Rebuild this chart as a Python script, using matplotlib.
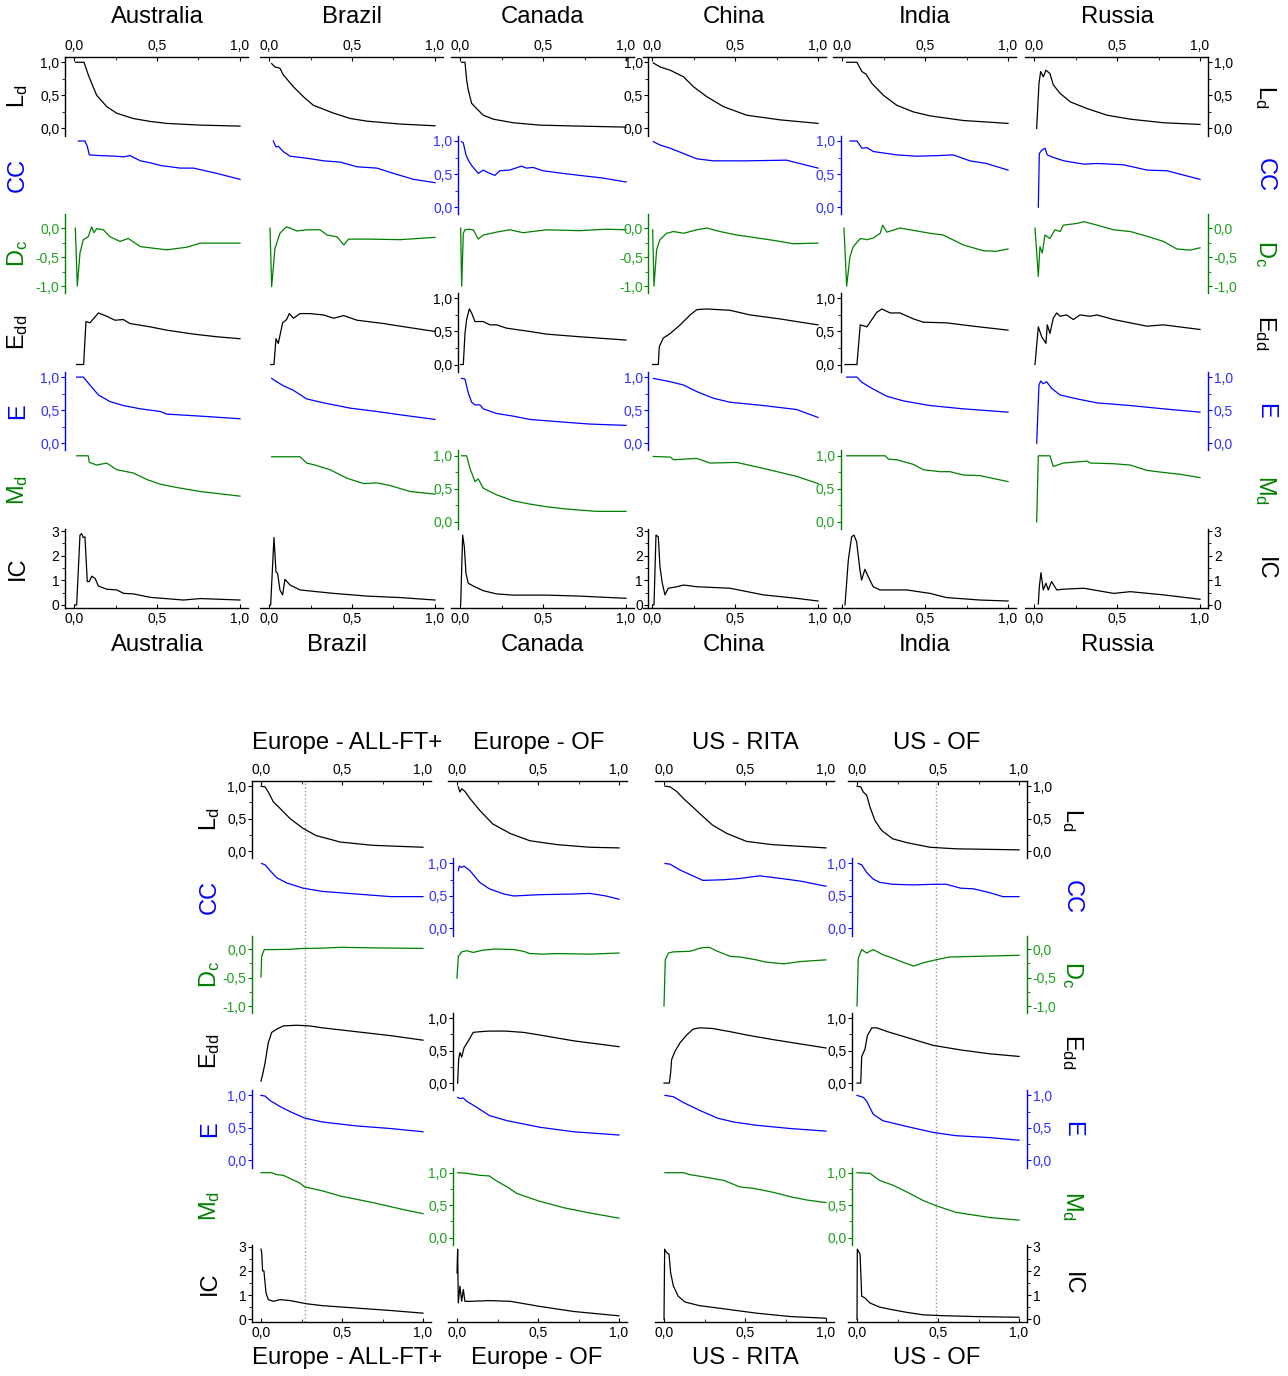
import matplotlib
matplotlib.use("Agg")
import matplotlib.pyplot as plt

plt.rcParams['font.family'] = ['Liberation Sans', 'DejaVu Sans']
plt.rcParams['mathtext.fontset'] = 'custom'
plt.rcParams['mathtext.rm'] = 'Liberation Sans'
plt.rcParams['mathtext.it'] = 'Liberation Sans'

# ---------------- data ----------------
METRICS = ["Ld", "CC", "Dc", "Edd", "E", "Md", "IC"]
METRIC_LABELS = ["L$_{\\rm d}$", "CC", "D$_{\\rm c}$", "E$_{\\rm dd}$", "E", "M$_{\\rm d}$", "IC"]
TOP_NAMES = ["Australia", "Brazil", "Canada", "China", "India", "Russia"]
BOTTOM_NAMES = ["Europe - ALL-FT+", "Europe - OF", "US - RITA", "US - OF"]
XTICKS = [0.0, 0.5, 1.0]
XMINOR = [0.25, 0.75]
UNIT_TICKS = [0.0, 0.5, 1.0]
DC_TICKS = [-1.0, -0.5, 0.0]
IC_TICKS = [0, 1, 2, 3]
MARKER_LINES = {0: 0.27, 3: 0.49}   # dotted reference lines in lower block

australia = {
    "Ld": ([0.01, 0.06, 0.086, 0.11, 0.137, 0.197, 0.257, 0.357, 0.458, 0.558, 0.76, 1.0],
           [1.0, 1.0, 0.81, 0.66, 0.5, 0.33, 0.23, 0.15, 0.106, 0.076, 0.05, 0.035]),
    "CC": ([0.026, 0.066, 0.08, 0.092, 0.15, 0.25, 0.3, 0.337, 0.36, 0.4, 0.46, 0.52, 0.58, 0.64, 0.72, 0.86, 1.0],
           [1.0, 1.0, 0.92, 0.79, 0.78, 0.77, 0.76, 0.78, 0.75, 0.70, 0.67, 0.63, 0.61, 0.59, 0.59, 0.51, 0.42]),
    "Dc": ([0.008, 0.02, 0.036, 0.056, 0.086, 0.106, 0.12, 0.137, 0.177, 0.217, 0.277, 0.327, 0.4, 0.558, 0.68, 0.76, 1.0],
           [0.0, -1.0, -0.43, -0.2, -0.15, 0.02, -0.08, -0.01, -0.03, -0.15, -0.23, -0.18, -0.32, -0.375, -0.33, -0.26, -0.26]),
    "Edd": ([0.016, 0.058, 0.072, 0.096, 0.147, 0.197, 0.247, 0.297, 0.337, 0.458, 0.558, 0.72, 0.86, 1.0],
            [0.0, 0.0, 0.65, 0.63, 0.78, 0.73, 0.67, 0.68, 0.62, 0.57, 0.52, 0.46, 0.42, 0.39]),
    "E": ([0.016, 0.056, 0.096, 0.147, 0.217, 0.297, 0.4, 0.52, 0.56, 0.76, 1.0],
          [1.0, 1.0, 0.88, 0.73, 0.63, 0.57, 0.52, 0.48, 0.44, 0.41, 0.37]),
    "Md": ([0.016, 0.086, 0.092, 0.137, 0.197, 0.257, 0.357, 0.44, 0.52, 0.62, 0.76, 1.0],
           [1.0, 1.0, 0.9, 0.86, 0.89, 0.79, 0.74, 0.64, 0.57, 0.52, 0.46, 0.39]),
    "IC": ([0.006, 0.016, 0.036, 0.046, 0.056, 0.066, 0.08, 0.092, 0.107, 0.127, 0.147, 0.197, 0.257, 0.3, 0.357, 0.458, 0.66, 0.76, 1.0],
           [0, 0, 2.84, 2.9, 2.74, 2.77, 0.95, 0.95, 1.17, 1.08, 0.77, 0.64, 0.61, 0.47, 0.45, 0.31, 0.2, 0.26, 0.2]),
}

brazil = {
    "Ld": ([0.016, 0.036, 0.066, 0.086, 0.147, 0.207, 0.267, 0.39, 0.49, 0.59, 0.79, 1.0],
           [0.98, 0.93, 0.91, 0.81, 0.63, 0.48, 0.35, 0.23, 0.15, 0.11, 0.066, 0.04]),
    "CC": ([0.026, 0.042, 0.056, 0.086, 0.127, 0.227, 0.33, 0.43, 0.53, 0.65, 0.75, 0.87, 1.0],
           [1.0, 0.91, 0.92, 0.84, 0.77, 0.74, 0.70, 0.68, 0.61, 0.59, 0.51, 0.42, 0.37]),
    "Dc": ([0.006, 0.016, 0.036, 0.05, 0.066, 0.086, 0.106, 0.127, 0.167, 0.227, 0.307, 0.35, 0.41, 0.45, 0.48, 0.59, 0.79, 1.0],
           [0.0, -1.01, -0.35, -0.23, -0.09, -0.03, 0.02, 0.0, -0.05, -0.03, -0.03, -0.12, -0.15, -0.29, -0.19, -0.19, -0.2, -0.16]),
    "Edd": ([0.01, 0.03, 0.042, 0.056, 0.082, 0.106, 0.122, 0.147, 0.187, 0.247, 0.327, 0.39, 0.45, 0.53, 0.69, 0.79, 1.0],
            [0.0, 0.0, 0.39, 0.32, 0.63, 0.68, 0.77, 0.70, 0.77, 0.77, 0.75, 0.70, 0.74, 0.67, 0.62, 0.58, 0.5]),
    "E": ([0.016, 0.046, 0.086, 0.147, 0.227, 0.33, 0.49, 0.65, 0.79, 1.0],
          [0.98, 0.93, 0.87, 0.80, 0.67, 0.61, 0.53, 0.48, 0.43, 0.36]),
    "Md": ([0.016, 0.187, 0.227, 0.277, 0.367, 0.47, 0.57, 0.65, 0.73, 0.85, 1.0],
           [0.985, 0.985, 0.89, 0.86, 0.79, 0.66, 0.58, 0.59, 0.55, 0.46, 0.42]),
    "IC": ([0.01, 0.03, 0.042, 0.052, 0.066, 0.082, 0.096, 0.127, 0.187, 0.287, 0.39, 0.59, 0.79, 1.0],
           [0, 2.74, 1.35, 1.28, 0.61, 0.41, 1.04, 0.81, 0.61, 0.54, 0.47, 0.36, 0.3, 0.2]),
}

canada = {
    "Ld": ([0.01, 0.03, 0.04, 0.05, 0.07, 0.1, 0.14, 0.2, 0.32, 0.48, 0.72, 1.0],
           [1.0, 1.0, 0.73, 0.58, 0.38, 0.3, 0.2, 0.14, 0.086, 0.05, 0.035, 0.02]),
    "CC": ([0.01, 0.02, 0.036, 0.05, 0.07, 0.09, 0.11, 0.14, 0.17, 0.21, 0.24, 0.3, 0.37, 0.4, 0.44, 0.5, 0.62, 0.72, 0.86, 1.0],
           [0.99, 0.97, 0.79, 0.71, 0.63, 0.57, 0.51, 0.56, 0.52, 0.48, 0.55, 0.56, 0.62, 0.59, 0.6, 0.55, 0.51, 0.48, 0.44, 0.38]),
    "Dc": ([0.004, 0.01, 0.02, 0.03, 0.05, 0.08, 0.11, 0.14, 0.22, 0.3, 0.38, 0.52, 0.72, 0.88, 1.0],
           [0.0, -1.0, -0.09, -0.03, -0.02, -0.03, -0.19, -0.12, -0.07, -0.03, -0.08, -0.03, -0.045, -0.02, -0.03]),
    "Edd": ([0.004, 0.02, 0.03, 0.04, 0.056, 0.07, 0.09, 0.14, 0.18, 0.22, 0.28, 0.42, 0.52, 0.72, 1.0],
            [0.0, 0.0, 0.47, 0.68, 0.84, 0.78, 0.65, 0.65, 0.6, 0.6, 0.55, 0.5, 0.46, 0.42, 0.37]),
    "E": ([0.01, 0.03, 0.05, 0.07, 0.09, 0.12, 0.14, 0.22, 0.32, 0.42, 0.62, 0.78, 1.0],
          [0.98, 0.97, 0.76, 0.62, 0.58, 0.58, 0.52, 0.45, 0.41, 0.36, 0.32, 0.29, 0.27]),
    "Md": ([0.01, 0.04, 0.06, 0.09, 0.11, 0.14, 0.18, 0.22, 0.32, 0.42, 0.52, 0.62, 0.82, 1.0],
           [1.0, 1.0, 0.81, 0.61, 0.65, 0.51, 0.46, 0.41, 0.32, 0.27, 0.23, 0.2, 0.16, 0.16]),
    "IC": ([0.004, 0.016, 0.026, 0.036, 0.05, 0.08, 0.14, 0.22, 0.32, 0.52, 0.72, 1.0],
           [0, 2.84, 2.36, 1.28, 0.88, 0.77, 0.58, 0.45, 0.4, 0.4, 0.36, 0.27]),
}

china = {
    "Ld": ([0.008, 0.048, 0.11, 0.19, 0.25, 0.33, 0.43, 0.57, 0.77, 1.0],
           [0.99, 0.93, 0.88, 0.78, 0.63, 0.48, 0.33, 0.2, 0.13, 0.076]),
    "CC": ([0.008, 0.048, 0.11, 0.21, 0.27, 0.37, 0.57, 0.81, 1.0],
           [0.99, 0.94, 0.89, 0.79, 0.73, 0.7, 0.7, 0.71, 0.59]),
    "Dc": ([0.004, 0.012, 0.028, 0.048, 0.088, 0.13, 0.19, 0.27, 0.33, 0.41, 0.51, 0.61, 0.75, 0.85, 1.0],
           [-0.03, -1.0, -0.37, -0.2, -0.09, -0.06, -0.09, -0.03, 0.0, -0.06, -0.12, -0.16, -0.22, -0.27, -0.26]),
    "Edd": ([0.004, 0.038, 0.044, 0.068, 0.11, 0.17, 0.23, 0.27, 0.33, 0.47, 0.59, 0.77, 0.87, 1.0],
            [0.0, 0.0, 0.27, 0.4, 0.47, 0.6, 0.75, 0.83, 0.84, 0.82, 0.75, 0.69, 0.65, 0.6]),
    "E": ([0.008, 0.11, 0.19, 0.27, 0.37, 0.47, 0.67, 0.87, 1.0],
          [0.98, 0.93, 0.88, 0.78, 0.68, 0.62, 0.57, 0.51, 0.39]),
    "Md": ([0.008, 0.11, 0.13, 0.27, 0.35, 0.51, 0.67, 0.87, 1.0],
           [0.99, 0.98, 0.94, 0.96, 0.89, 0.9, 0.81, 0.69, 0.58]),
    "IC": ([0.004, 0.012, 0.024, 0.038, 0.048, 0.062, 0.078, 0.098, 0.15, 0.19, 0.27, 0.47, 0.67, 0.87, 1.0],
           [0, 0, 2.84, 2.77, 1.55, 0.88, 0.41, 0.68, 0.74, 0.81, 0.74, 0.68, 0.41, 0.27, 0.16]),
}

india = {
    "Ld": ([0.028, 0.09, 0.12, 0.145, 0.18, 0.25, 0.33, 0.43, 0.53, 0.73, 1.0],
           [1.0, 1.0, 0.86, 0.82, 0.68, 0.5, 0.35, 0.25, 0.19, 0.12, 0.076]),
    "CC": ([0.048, 0.09, 0.12, 0.15, 0.19, 0.33, 0.45, 0.59, 0.67, 0.77, 0.87, 1.0],
           [1.0, 1.0, 0.89, 0.9, 0.84, 0.79, 0.77, 0.78, 0.79, 0.7, 0.66, 0.56]),
    "Dc": ([0.012, 0.028, 0.048, 0.068, 0.11, 0.15, 0.19, 0.23, 0.245, 0.27, 0.35, 0.45, 0.53, 0.61, 0.73, 0.85, 0.93, 1.0],
           [0.0, -1.0, -0.49, -0.32, -0.18, -0.2, -0.17, -0.09, 0.05, -0.07, 0.0, -0.05, -0.09, -0.12, -0.29, -0.39, -0.4, -0.36]),
    "Edd": ([0.018, 0.09, 0.11, 0.15, 0.18, 0.21, 0.24, 0.29, 0.35, 0.43, 0.49, 0.63, 0.79, 1.0],
            [0.0, 0.0, 0.6, 0.57, 0.68, 0.79, 0.84, 0.78, 0.78, 0.69, 0.64, 0.63, 0.58, 0.52]),
    "E": ([0.028, 0.09, 0.12, 0.18, 0.27, 0.37, 0.53, 0.73, 1.0],
          [1.0, 1.0, 0.92, 0.83, 0.71, 0.64, 0.57, 0.52, 0.47]),
    "Md": ([0.028, 0.26, 0.28, 0.33, 0.43, 0.49, 0.59, 0.65, 0.73, 0.83, 1.0],
           [1.0, 1.0, 0.95, 0.94, 0.87, 0.79, 0.76, 0.76, 0.71, 0.70, 0.61]),
    "IC": ([0.018, 0.038, 0.058, 0.072, 0.088, 0.108, 0.118, 0.138, 0.158, 0.188, 0.23, 0.33, 0.39, 0.53, 0.63, 0.83, 1.0],
           [0, 1.82, 2.77, 2.84, 2.57, 1.42, 1.01, 1.45, 1.15, 0.74, 0.61, 0.61, 0.61, 0.47, 0.3, 0.2, 0.16]),
}

russia = {
    "Ld": ([0.016, 0.03, 0.04, 0.056, 0.072, 0.096, 0.116, 0.157, 0.22, 0.32, 0.44, 0.58, 0.78, 1.0],
           [0.0, 0.68, 0.86, 0.78, 0.88, 0.83, 0.66, 0.53, 0.4, 0.3, 0.2, 0.14, 0.086, 0.06]),
    "CC": ([0.026, 0.032, 0.046, 0.066, 0.08, 0.106, 0.18, 0.3, 0.38, 0.54, 0.68, 0.8, 1.0],
           [0.0, 0.81, 0.86, 0.89, 0.79, 0.76, 0.7, 0.65, 0.66, 0.64, 0.56, 0.55, 0.42]),
    "Dc": ([0.006, 0.026, 0.036, 0.05, 0.066, 0.096, 0.126, 0.157, 0.177, 0.26, 0.3, 0.38, 0.48, 0.58, 0.68, 0.78, 0.86, 0.94, 1.0],
           [0.0, -0.83, -0.32, -0.43, -0.12, -0.18, -0.03, -0.06, 0.05, 0.08, 0.11, 0.05, -0.03, -0.06, -0.14, -0.23, -0.36, -0.38, -0.34]),
    "Edd": ([0.006, 0.026, 0.046, 0.072, 0.08, 0.096, 0.116, 0.137, 0.157, 0.197, 0.237, 0.277, 0.337, 0.38, 0.48, 0.58, 0.68, 0.78, 1.0],
            [0.0, 0.57, 0.42, 0.32, 0.6, 0.47, 0.7, 0.78, 0.73, 0.75, 0.68, 0.75, 0.73, 0.75, 0.68, 0.63, 0.58, 0.6, 0.53]),
    "E": ([0.016, 0.03, 0.04, 0.056, 0.076, 0.106, 0.157, 0.26, 0.38, 0.58, 0.78, 1.0],
          [0.0, 0.88, 0.94, 0.9, 0.93, 0.83, 0.73, 0.67, 0.61, 0.57, 0.52, 0.47]),
    "Md": ([0.016, 0.026, 0.096, 0.116, 0.177, 0.32, 0.34, 0.48, 0.58, 0.68, 0.74, 0.88, 1.0],
           [0.0, 1.0, 1.0, 0.84, 0.89, 0.92, 0.89, 0.88, 0.86, 0.78, 0.76, 0.72, 0.67]),
    "IC": ([0.026, 0.032, 0.042, 0.056, 0.072, 0.086, 0.106, 0.137, 0.177, 0.3, 0.48, 0.58, 0.78, 1.0],
           [0.04, 0.74, 1.31, 0.61, 0.88, 0.61, 0.95, 0.61, 0.64, 0.68, 0.47, 0.54, 0.41, 0.23]),
}

europe_all = {
    "Ld": ([0.0, 0.025, 0.045, 0.076, 0.117, 0.18, 0.26, 0.34, 0.49, 0.69, 1.0],
           [1.0, 0.99, 0.91, 0.76, 0.66, 0.5, 0.35, 0.24, 0.14, 0.09, 0.06]),
    "CC": ([0.004, 0.025, 0.056, 0.097, 0.16, 0.26, 0.38, 0.59, 0.8, 1.0],
           [1.0, 0.98, 0.89, 0.78, 0.7, 0.62, 0.57, 0.53, 0.49, 0.49]),
    "Dc": ([0.0, 0.004, 0.02, 0.08, 0.18, 0.26, 0.38, 0.49, 0.69, 1.0],
           [-0.49, -0.13, -0.01, -0.01, -0.005, 0.01, 0.015, 0.03, 0.02, 0.01]),
    "Edd": ([0.0, 0.01, 0.025, 0.045, 0.066, 0.097, 0.138, 0.22, 0.3, 0.38, 0.59, 0.8, 1.0],
            [0.03, 0.13, 0.31, 0.62, 0.78, 0.83, 0.88, 0.89, 0.88, 0.85, 0.79, 0.73, 0.66]),
    "E": ([0.0, 0.025, 0.056, 0.117, 0.18, 0.27, 0.38, 0.59, 0.8, 1.0],
          [1.0, 0.99, 0.92, 0.83, 0.75, 0.65, 0.59, 0.53, 0.49, 0.44]),
    "Md": ([0.0, 0.066, 0.097, 0.138, 0.18, 0.24, 0.27, 0.38, 0.49, 0.69, 0.9, 1.0],
           [1.0, 1.0, 0.97, 0.96, 0.91, 0.84, 0.78, 0.72, 0.64, 0.54, 0.42, 0.37]),
    "IC": ([0.0, 0.004, 0.01, 0.018, 0.031, 0.045, 0.076, 0.117, 0.18, 0.28, 0.38, 0.59, 0.8, 1.0],
           [2.9, 2.76, 2.0, 2.0, 1.09, 0.81, 0.74, 0.81, 0.77, 0.64, 0.56, 0.46, 0.36, 0.25]),
}

europe_of = {
    "Ld": ([0.008, 0.018, 0.029, 0.049, 0.08, 0.14, 0.22, 0.33, 0.45, 0.62, 0.82, 1.0],
           [0.99, 0.91, 0.96, 0.92, 0.81, 0.63, 0.42, 0.27, 0.16, 0.1, 0.06, 0.05]),
    "CC": ([0.008, 0.014, 0.029, 0.043, 0.08, 0.14, 0.2, 0.29, 0.35, 0.51, 0.72, 0.82, 0.92, 1.0],
           [0.89, 0.96, 0.94, 0.96, 0.89, 0.71, 0.61, 0.53, 0.5, 0.52, 0.53, 0.54, 0.5, 0.45]),
    "Dc": ([0.0, 0.008, 0.029, 0.06, 0.1, 0.16, 0.24, 0.35, 0.41, 0.45, 0.53, 0.62, 0.82, 1.0],
           [-0.51, -0.13, -0.05, -0.03, -0.06, -0.02, 0.0, -0.01, -0.04, -0.08, -0.09, -0.08, -0.09, -0.07]),
    "Edd": ([0.004, 0.01, 0.018, 0.029, 0.043, 0.07, 0.1, 0.14, 0.2, 0.3, 0.41, 0.51, 0.72, 1.0],
            [0.0, 0.36, 0.47, 0.4, 0.54, 0.65, 0.78, 0.79, 0.8, 0.8, 0.78, 0.74, 0.65, 0.56]),
    "E": ([0.004, 0.018, 0.039, 0.06, 0.12, 0.2, 0.31, 0.51, 0.72, 1.0],
          [0.97, 0.95, 0.96, 0.91, 0.82, 0.69, 0.61, 0.51, 0.44, 0.39]),
    "Md": ([0.004, 0.06, 0.14, 0.2, 0.24, 0.31, 0.37, 0.51, 0.66, 0.82, 1.0],
           [1.0, 0.99, 0.96, 0.95, 0.88, 0.78, 0.68, 0.56, 0.46, 0.38, 0.3]),
    "IC": ([0.0, 0.004, 0.008, 0.018, 0.029, 0.039, 0.049, 0.08, 0.2, 0.33, 0.51, 0.72, 1.0],
           [1.92, 2.9, 0.67, 1.37, 0.74, 1.23, 0.74, 0.74, 0.77, 0.74, 0.53, 0.32, 0.14]),
}

us_rita = {
    "Ld": ([0.006, 0.037, 0.078, 0.12, 0.16, 0.22, 0.3, 0.39, 0.51, 0.67, 1.0],
           [1.0, 0.99, 0.92, 0.81, 0.72, 0.58, 0.4, 0.27, 0.15, 0.1, 0.05]),
    "CC": ([0.006, 0.037, 0.099, 0.16, 0.24, 0.37, 0.47, 0.59, 0.72, 0.84, 1.0],
           [1.0, 0.99, 0.9, 0.83, 0.74, 0.75, 0.77, 0.81, 0.77, 0.73, 0.65]),
    "Dc": ([0.0, 0.008, 0.027, 0.058, 0.16, 0.23, 0.28, 0.33, 0.41, 0.47, 0.57, 0.63, 0.74, 0.84, 1.0],
           [-1.0, -0.19, -0.07, -0.05, -0.04, 0.02, 0.03, -0.04, -0.13, -0.14, -0.19, -0.23, -0.26, -0.22, -0.19]),
    "Edd": ([0.0, 0.033, 0.041, 0.047, 0.068, 0.099, 0.14, 0.18, 0.22, 0.3, 0.41, 0.51, 0.67, 1.0],
            [0.0, 0.0, 0.16, 0.36, 0.49, 0.62, 0.74, 0.83, 0.85, 0.84, 0.79, 0.74, 0.67, 0.54]),
    "E": ([0.006, 0.058, 0.12, 0.22, 0.33, 0.43, 0.57, 0.78, 1.0],
          [1.0, 0.98, 0.89, 0.77, 0.65, 0.59, 0.54, 0.49, 0.45]),
    "Md": ([0.006, 0.12, 0.16, 0.26, 0.37, 0.47, 0.55, 0.67, 0.78, 0.88, 1.0],
           [1.0, 1.0, 0.97, 0.93, 0.88, 0.78, 0.76, 0.7, 0.63, 0.58, 0.54]),
    "IC": ([0.0, 0.004, 0.016, 0.031, 0.041, 0.058, 0.088, 0.13, 0.22, 0.37, 0.57, 0.78, 1.0],
           [0, 2.9, 2.76, 2.69, 1.92, 1.37, 0.95, 0.71, 0.56, 0.43, 0.25, 0.11, 0.04]),
}

us_of = {
    "Ld": ([0.0, 0.023, 0.039, 0.06, 0.08, 0.111, 0.152, 0.22, 0.31, 0.45, 0.61, 1.0],
           [1.0, 0.99, 0.91, 0.86, 0.68, 0.47, 0.32, 0.19, 0.13, 0.06, 0.036, 0.02]),
    "CC": ([0.008, 0.029, 0.06, 0.1, 0.14, 0.22, 0.35, 0.47, 0.55, 0.64, 0.72, 0.82, 0.9, 1.0],
           [1.0, 0.98, 0.86, 0.76, 0.71, 0.68, 0.67, 0.68, 0.68, 0.62, 0.61, 0.55, 0.49, 0.49]),
    "Dc": ([0.0, 0.008, 0.029, 0.06, 0.1, 0.16, 0.22, 0.29, 0.35, 0.41, 0.47, 0.57, 0.72, 1.0],
           [-1.0, -0.16, -0.01, -0.07, -0.01, -0.1, -0.16, -0.24, -0.3, -0.24, -0.2, -0.14, -0.13, -0.11]),
    "Edd": ([0.0, 0.023, 0.029, 0.049, 0.064, 0.091, 0.122, 0.19, 0.31, 0.47, 0.64, 0.82, 1.0],
            [0.0, 0.0, 0.41, 0.52, 0.73, 0.85, 0.85, 0.79, 0.7, 0.58, 0.51, 0.45, 0.41]),
    "E": ([0.0, 0.039, 0.06, 0.1, 0.16, 0.31, 0.47, 0.61, 0.82, 1.0],
          [1.0, 0.97, 0.91, 0.71, 0.61, 0.52, 0.43, 0.38, 0.35, 0.31]),
    "Md": ([0.0, 0.08, 0.14, 0.22, 0.31, 0.41, 0.49, 0.61, 0.82, 1.0],
           [1.0, 0.99, 0.88, 0.81, 0.7, 0.57, 0.49, 0.39, 0.31, 0.27]),
    "IC": ([0.0, 0.002, 0.019, 0.029, 0.049, 0.08, 0.14, 0.22, 0.31, 0.41, 0.51, 0.72, 1.0],
           [0, 2.9, 2.69, 0.95, 0.88, 0.67, 0.5, 0.39, 0.28, 0.18, 0.15, 0.11, 0.08]),
}

TOP_DATA = [australia, brazil, canada, china, india, russia]
BOTTOM_DATA = [europe_all, europe_of, us_rita, us_of]

# ---------------- styling ----------------
BLACK, BLUE, GREEN = "black", "#0000ff", "#008000"
TICK_BLUE, TICK_GREEN = "#3030ff", "#20a020"
METRIC_COLORS = [BLACK, BLUE, GREEN, BLACK, BLUE, GREEN, BLACK]
TICK_COLORS = [BLACK, TICK_BLUE, TICK_GREEN, BLACK, TICK_BLUE, TICK_GREEN, BLACK]
XLIM = (-0.055, 1.05)
YLIMS = [(-0.11, 1.08), (-0.11, 1.08), (-1.12, 0.235), (-0.11, 1.08),
         (-0.11, 1.08), (-0.11, 1.08), (-0.12, 3.08)]
TICK_FS = 10
TITLE_FS = 17.2
ROW_FS = 17

W, H = 1288, 1376
fig = plt.figure(figsize=(W / 100, H / 100), dpi=100)


def px_ax(left, top, width, height):
    return fig.add_axes([left / W, 1 - (top + height) / H, width / W, height / H])


def fmt_dec(v):
    return ("%.1f" % v).replace(".", ",")


def style(ax, r, yspine, xaxis):
    for s in ax.spines.values():
        s.set_visible(False)
    ax.patch.set_alpha(0)
    ax.set_xlim(XLIM)
    ax.set_ylim(YLIMS[r])
    if xaxis is None:
        ax.set_xticks([])
        ax.set_xticks([], minor=True)
    else:
        ax.spines[xaxis].set_visible(True)
        ax.spines[xaxis].set_linewidth(1.0)
        ax.xaxis.set_ticks_position(xaxis)
        ax.set_xticks(XTICKS)
        ax.set_xticks(XMINOR, minor=True)
        ax.set_xticklabels([fmt_dec(v) for v in XTICKS])
        ax.tick_params(axis='x', which='major', direction='in', length=3, width=0.8,
                       labelsize=TICK_FS, pad=3)
        ax.tick_params(axis='x', which='minor', direction='in', length=2, width=0.6)
    if yspine is None:
        ax.set_yticks([])
        ax.set_yticks([], minor=True)
    else:
        side, pos = yspine
        col = METRIC_COLORS[r]
        sp = ax.spines[side]
        sp.set_visible(True)
        sp.set_color(col)
        sp.set_linewidth(1.0)
        if pos is not None:
            sp.set_position(('data', pos))
        ax.yaxis.set_ticks_position(side)
        if r == 6:
            ax.set_yticks(IC_TICKS)
            ax.set_yticklabels([str(v) for v in IC_TICKS])
            ax.set_yticks([0.5, 1.5, 2.5], minor=True)
        elif r == 2:
            ax.set_yticks(DC_TICKS)
            ax.set_yticklabels([fmt_dec(v) for v in DC_TICKS])
            ax.set_yticks([-0.75, -0.25], minor=True)
        else:
            ax.set_yticks(UNIT_TICKS)
            ax.set_yticklabels([fmt_dec(v) for v in UNIT_TICKS])
            ax.set_yticks([0.25, 0.75], minor=True)
        ax.tick_params(axis='y', which='major', direction='out', length=3, width=0.8,
                       labelsize=TICK_FS, pad=1, color=col, labelcolor=TICK_COLORS[r])
        ax.tick_params(axis='y', which='minor', direction='out', length=2, width=0.6,
                       color=col)


def build_block(data, x0s, unit, row_top, row_h, yspec, lab_left, lab_right,
                names, title_top_x, title_top_y, title_bot_x, title_bot_y, vlines):
    nrows = len(METRICS)
    for c, d in enumerate(data):
        left = x0s[c] + XLIM[0] * unit
        width = (XLIM[1] - XLIM[0]) * unit
        for r, m in enumerate(METRICS):
            ax = px_ax(left, row_top + r * row_h, width, row_h)
            xaxis = 'top' if r == 0 else ('bottom' if r == nrows - 1 else None)
            style(ax, r, yspec(r, c), xaxis)
            xs, ys = d[m]
            ax.plot(xs, ys, color=METRIC_COLORS[r], lw=0.9, solid_joinstyle='round')
            if c in vlines:
                ax.axvline(vlines[c], color='#999999', ls=':', lw=1.0, zorder=0)
    for r in range(nrows):
        yc = row_top + (r + 0.5) * row_h
        fig.text(lab_left / W, 1 - yc / H, METRIC_LABELS[r], rotation=90, ha='center',
                 va='center', fontsize=ROW_FS, color=METRIC_COLORS[r])
        fig.text(lab_right / W, 1 - yc / H, METRIC_LABELS[r], rotation=-90, ha='center',
                 va='center', fontsize=ROW_FS, color=METRIC_COLORS[r])
    for i, n in enumerate(names):
        fig.text(title_top_x[i] / W, 1 - title_top_y / H, n, ha='center', va='center',
                 fontsize=TITLE_FS)
        fig.text(title_bot_x[i] / W, 1 - title_bot_y / H, n, ha='center', va='center',
                 fontsize=TITLE_FS)


def top_yspec(r, c):
    if r % 2 == 0:
        return {0: ('left', None), 3: ('left', -0.022), 5: ('right', None)}.get(c)
    return {2: ('left', -0.012), 4: ('left', -0.008)}.get(c)


def bottom_yspec(r, c):
    if r % 2 == 0:
        return {0: ('left', None), 3: ('right', None)}.get(c)
    return {1: ('left', -0.025), 3: ('left', -0.03)}.get(c)


build_block(TOP_DATA, [74, 269, 460, 652, 842, 1034], 166, 57, 78.7, top_yspec, 18, 1265,
            TOP_NAMES, [157, 352, 543, 734, 925, 1117], 17,
            [157, 337, 543, 734, 925, 1117], 645, {})
build_block(BOTTOM_DATA, [261, 457, 664, 857], 162, 781, 77.3, bottom_yspec, 210, 1072,
            BOTTOM_NAMES, [347, 539, 745, 937], 743, [347, 537, 745, 937], 1358,
            MARKER_LINES)

fig.savefig("out.png", dpi=100)
